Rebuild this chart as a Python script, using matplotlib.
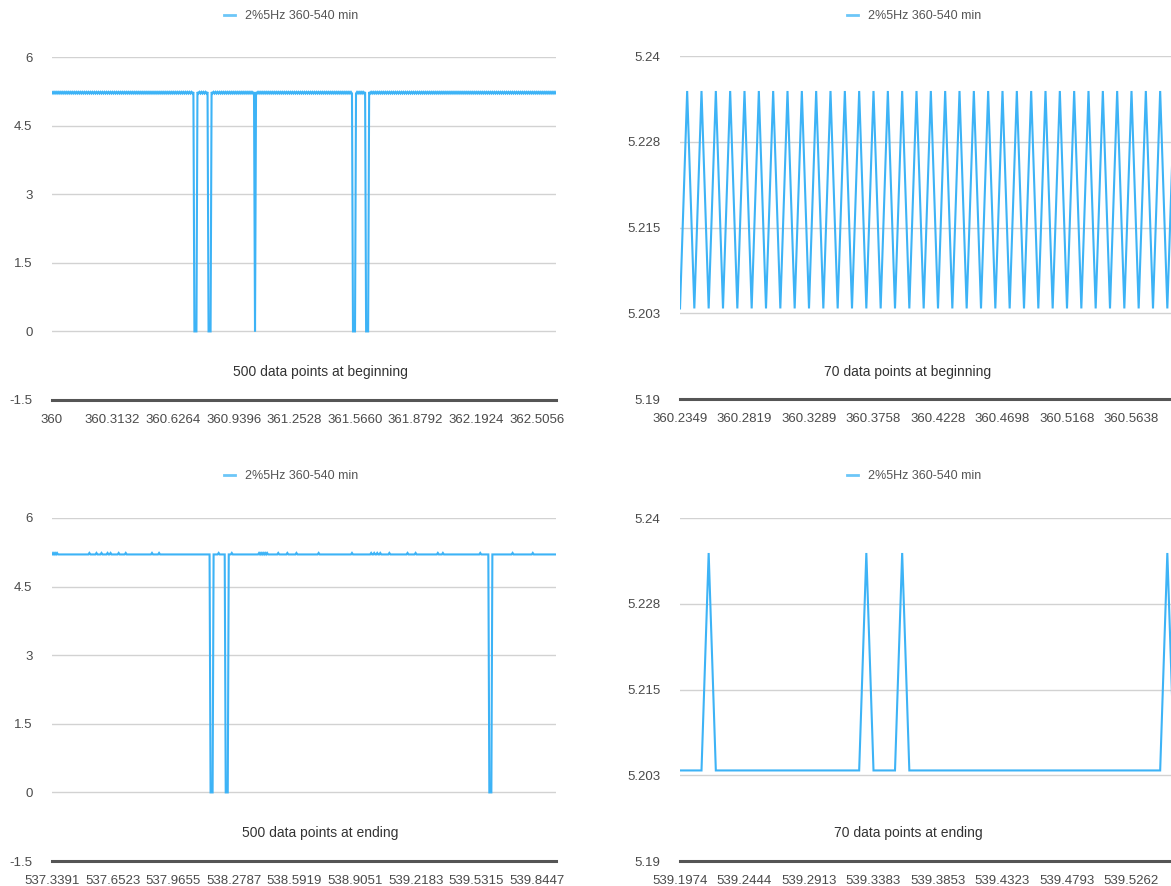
import numpy as np
import matplotlib
matplotlib.use("Agg")
import matplotlib.pyplot as plt

plt.rcParams['font.family'] = ['Liberation Sans', 'DejaVu Sans']

# sample levels of the 2%5Hz signal (V)
LOW = 5.2032
HIGH = 5.2349
DROP = 0.0

# first 500 samples (from 360 min): alternating high/low, with dropouts
begin_drop = [141, 142, 143, 155, 156, 157, 201, 298, 299, 300, 311, 312, 313]
# last 500 samples: sitting at the low level, isolated high samples, dropouts
end_high = [1, 3, 5, 37, 44, 49, 55, 58, 66, 73, 99, 106, 165, 178,
            205, 207, 209, 211, 213, 224, 233, 242, 264, 297, 316, 319,
            322, 325, 334, 352, 360, 382, 387, 424, 456, 476]
end_drop = [157, 158, 159, 172, 173, 174, 433, 434, 435]

# zoomed windows (start index, number of samples)
begin_zoom = (45, 70)
end_zoom = (356, 70)

begin_labels = ['360', '360.3132', '360.6264', '360.9396', '361.2528',
                '361.5660', '361.8792', '362.1924', '362.5056']
end_labels = ['537.3391', '537.6523', '537.9655', '538.2787', '538.5919',
              '538.9051', '539.2183', '539.5315', '539.8447']
begin_zoom_labels = ['360.2349', '360.2819', '360.3289', '360.3758',
                     '360.4228', '360.4698', '360.5168', '360.5638']
end_zoom_labels = ['539.1974', '539.2444', '539.2913', '539.3383',
                   '539.3853', '539.4323', '539.4793', '539.5262']

wide_ticks = [6, 4.5, 3, 1.5, 0, -1.5]
wide_ticklabels = ['6', '4.5', '3', '1.5', '0', '-1.5']
zoom_ticks = [5.24, 5.2275, 5.215, 5.2025, 5.19]
zoom_ticklabels = ['5.24', '5.228', '5.215', '5.203', '5.19']

series_name = '2%5Hz 360-540 min'

begin = np.tile([HIGH, LOW], 250)
begin[begin_drop] = DROP
end = np.full(500, LOW)
end[end_high] = HIGH
end[end_drop] = DROP

s, n = begin_zoom
begin_part = begin[s:s + n]
s, n = end_zoom
end_part = end[s:s + n]

W, H = 1171, 886
fig = plt.figure(figsize=(W / 100, H / 100), dpi=100)

line_c = '#3db3f6'
text_c = '#4a4a4a'


def px(x0, y0, x1, y1):
    return [x0 / W, 1 - y1 / H, (x1 - x0) / W, (y1 - y0) / H]


def panel(rect, y, xlabels, step, ticks, ticklabels, title, leg_x, leg_y, title_x, title_y):
    ax = fig.add_axes(rect)
    x = np.arange(len(y))
    ax.plot(x, y, color=line_c, lw=1.5, label=series_name, solid_joinstyle='miter')
    ax.set_xlim(0, len(y) - 1)
    ax.set_ylim(ticks[-1], ticks[0])
    ax.set_yticks(ticks)
    ax.set_yticklabels(ticklabels)
    ax.set_xticks(np.arange(len(xlabels)) * step)
    ax.set_xticklabels(xlabels)
    ax.tick_params(length=0, labelsize=9.5, colors=text_c)
    ax.tick_params(axis='y', pad=14)
    ax.tick_params(axis='x', pad=10)
    for sp in ['top', 'right', 'left']:
        ax.spines[sp].set_visible(False)
    ax.spines['bottom'].set_color('#555555')
    ax.spines['bottom'].set_linewidth(2.2)
    for t in ticks[:-1]:
        ax.axhline(t, color='#d2d2d2', lw=1.0, zorder=0)
    ax.set_facecolor('none')
    leg = ax.legend(loc='center', bbox_to_anchor=(leg_x / W, 1 - leg_y / H),
                    bbox_transform=fig.transFigure, frameon=False,
                    handlelength=0.9, handletextpad=0.8, fontsize=9)
    for t in leg.get_texts():
        t.set_color('#555555')
    for h in leg.get_lines():
        h.set_linewidth(2.0)
        h.set_color('#6cc6f8')
    fig.text(title_x / W, 1 - title_y / H, title, ha='center', va='center',
             fontsize=10, color='#333333')
    return ax


panel(px(52, 57, 556, 400), begin, begin_labels, 60, wide_ticks, wide_ticklabels,
      '500 data points at beginning', 291, 16, 320, 372)
panel(px(680, 56, 1174.5, 399), begin_part, begin_zoom_labels, 9, zoom_ticks,
      zoom_ticklabels, '70 data points at beginning', 914, 16, 908, 372)
panel(px(52, 518, 556, 861), end, end_labels, 60, wide_ticks, wide_ticklabels,
      '500 data points at ending', 291, 476, 320, 833)
panel(px(680, 518, 1174.5, 861), end_part, end_zoom_labels, 9, zoom_ticks,
      zoom_ticklabels, '70 data points at ending', 914, 476, 908, 833)

fig.savefig('out.png', dpi=100, facecolor='white')
